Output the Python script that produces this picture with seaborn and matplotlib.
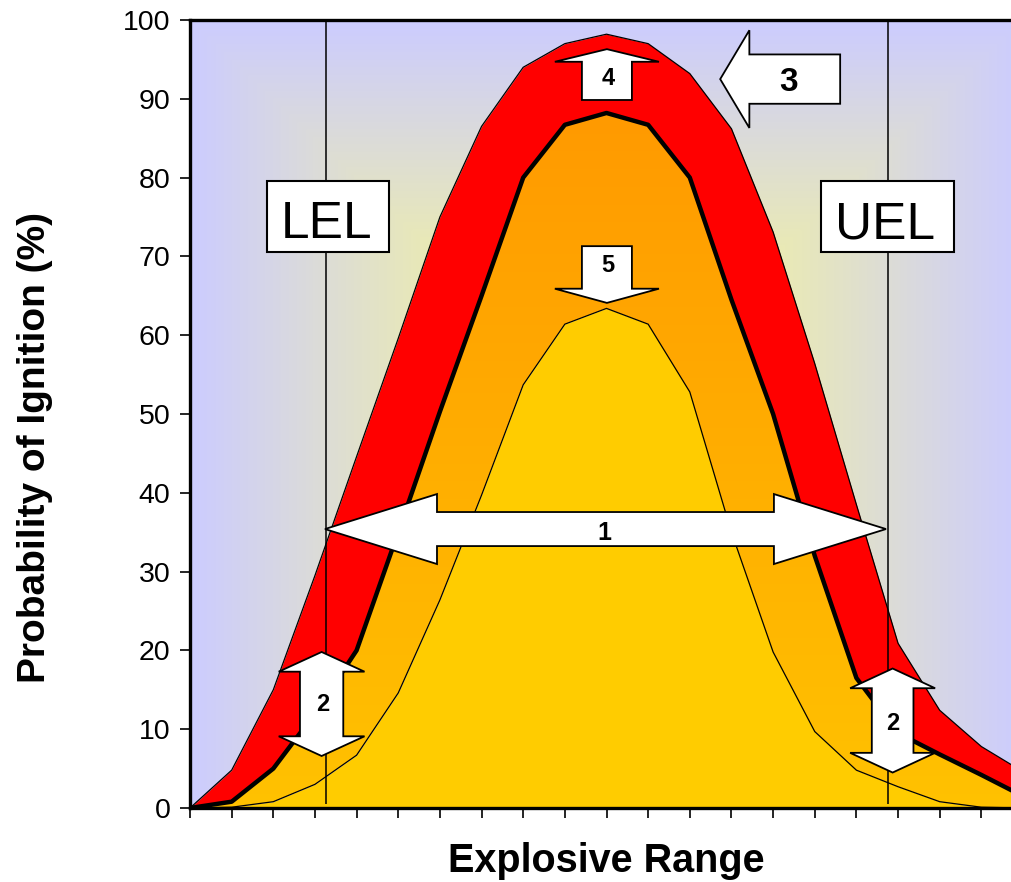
import numpy as np
import seaborn as sns
import matplotlib.pyplot as plt
from matplotlib.patches import Polygon, Rectangle, PathPatch

# data (x = tick index along the explosive range)
steps = list(range(21))
outer_red = [0, 4.8, 15, 29.5, 44.6, 59.6, 75, 86.5, 94, 97, 98.2, 97, 93.2, 86.2, 73.1,
             56.4, 38.5, 20.9, 12.4, 7.8, 4.6]
ignition = [0, 0.8, 5, 12, 20, 35, 50.3, 65, 80, 86.7, 88.2, 86.7, 80, 64.5, 50,
            32, 16.5, 9.5, 6.8, 4.2, 1.5]
inner_yellow = [0, 0.1, 0.8, 3, 6.7, 14.6, 26.4, 39.7, 53.7, 61.4, 63.4, 61.4, 52.8, 35, 19.8,
                9.7, 4.8, 2.7, 0.8, 0.1, 0]
lel_x = 3.27
uel_x = 16.76

sns.set_theme(style="white")
plt.rcParams['font.family'] = ['Liberation Sans', 'DejaVu Sans']
plt.rcParams['text.color'] = 'black'
plt.rcParams['axes.labelcolor'] = 'black'

fig = plt.figure(figsize=(10.12, 8.82), dpi=100)
ax = fig.add_axes([190 / 1012, 74 / 882, 833 / 1012, 788 / 882])

# background "from centre" gradient
gx, gy = np.meshgrid(np.linspace(-1, 1, 300), np.linspace(-1, 1, 300))
d = np.clip(np.maximum(np.abs(gx), np.abs(gy)), 0, 1)[..., None]
centre = np.array([1.0, 1.0, 0.5])
edge = np.array([0.80, 0.80, 1.0])
bg = centre * (1 - d) + edge * d
ax.imshow(bg, extent=[0, 20, 0, 100], aspect='auto', origin='lower', zorder=0)

# fills
ax.fill_between(steps, ignition, outer_red, color='#FF0000', lw=0, zorder=1)
ax.fill_between(steps, 0, inner_yellow, color='#FFCC00', lw=0, zorder=2)
band = ax.fill_between(steps, inner_yellow, ignition, color='none', lw=0, zorder=2)
og = np.linspace(0, 1, 200)[:, None]
orange = np.array([1.0, 0.76, 0.0]) * (1 - og[..., None]) + np.array([1.0, 0.60, 0.0]) * og[..., None]
orange = np.repeat(orange, 2, axis=1)
im = ax.imshow(orange, extent=[0, 20, 0, 90], aspect='auto', origin='lower', zorder=2)
clip = PathPatch(band.get_paths()[0], transform=ax.transData, facecolor='none', edgecolor='none')
ax.add_patch(clip)
im.set_clip_path(clip)

sns.lineplot(x=steps, y=outer_red, ax=ax, color='black', linewidth=0.9, zorder=3)
sns.lineplot(x=steps, y=ignition, ax=ax, color='black', linewidth=3.2, zorder=3)
sns.lineplot(x=steps, y=inner_yellow, ax=ax, color='black', linewidth=0.9, zorder=3)

ax.vlines([lel_x, uel_x], 0.5, 100, color='black', lw=1.1, zorder=4)


def arrow(pts):
    ax.add_patch(Polygon(pts, closed=True, facecolor='white', edgecolor='black',
                         lw=1.3, zorder=6, joinstyle='miter'))


def h_double(x0, x1, yc, hl, hh, sh):
    arrow([(x0, yc), (x0 + hl, yc + hh), (x0 + hl, yc + sh), (x1 - hl, yc + sh),
           (x1 - hl, yc + hh), (x1, yc), (x1 - hl, yc - hh), (x1 - hl, yc - sh),
           (x0 + hl, yc - sh), (x0 + hl, yc - hh)])


def v_double(xc, y0, y1, hl, hw, sw):
    arrow([(xc, y1), (xc + hw, y1 - hl), (xc + sw, y1 - hl), (xc + sw, y0 + hl),
           (xc + hw, y0 + hl), (xc, y0), (xc - hw, y0 + hl), (xc - sw, y0 + hl),
           (xc - sw, y1 - hl), (xc - hw, y1 - hl)])


def v_single(xc, tip, base, tail, hw, sw):
    arrow([(xc, tip), (xc + hw, base), (xc + sw, base), (xc + sw, tail),
           (xc - sw, tail), (xc - sw, base), (xc - hw, base)])


h_double(3.24, 16.71, 35.4, 2.69, 4.44, 2.16)
v_double(3.16, 6.6, 19.8, 2.5, 1.03, 0.52)
v_double(16.87, 4.5, 17.7, 2.5, 1.02, 0.50)
v_single(10.01, 96.3, 94.7, 89.85, 1.25, 0.60)
v_single(10.01, 64.1, 65.9, 71.3, 1.25, 0.60)
arrow([(12.73, 92.5), (13.43, 98.7), (13.43, 95.63), (15.61, 95.63),
       (15.61, 89.37), (13.43, 89.37), (13.43, 86.3)])

num = dict(ha='center', va='center', fontweight='bold', color='black', zorder=7)
ax.text(9.96, 34.9, '1', fontsize=18, **num)
ax.text(3.19, 13.1, '2', fontsize=17, **num)
ax.text(16.88, 10.7, '2', fontsize=17, **num)
ax.text(10.04, 92.6, '4', fontsize=17, **num)
ax.text(10.04, 68.8, '5', fontsize=17, **num)
ax.text(14.36, 92.1, '3', fontsize=24, **num)

# LEL / UEL boxes
for x0, x1, tx, lab in [(1.856, 4.771, 3.28, 'LEL'), (15.14, 18.34, 16.69, 'UEL')]:
    ax.add_patch(Rectangle((x0, 70.56), x1 - x0, 9.04, facecolor='white',
                           edgecolor='black', lw=1.5, zorder=7))
    ax.text(tx, 72.3, lab, fontsize=37, ha='center', va='baseline', color='black', zorder=8)

ax.set_xlim(0, 20)
ax.set_ylim(0, 100)
ax.set_xticks(steps)
ax.set_xticklabels([])
ax.set_yticks(range(0, 101, 10))
ax.tick_params(axis='y', labelsize=20.5, length=7, width=1.2, pad=7, left=True,
               colors='black', labelcolor='black')
ax.tick_params(axis='x', length=7, width=1.2, bottom=True, colors='black')
for s in ['left', 'bottom', 'top']:
    ax.spines[s].set_linewidth(2.4)
    ax.spines[s].set_color('black')
ax.spines['right'].set_visible(False)

ax.set_ylabel('Probability of Ignition (%)', fontsize=28, fontweight='bold')
ax.yaxis.set_label_coords(-0.165, 0.458)
ax.set_xlabel('Explosive Range', fontsize=28.5, fontweight='bold', labelpad=14)

fig.savefig('out.png', dpi=100)
